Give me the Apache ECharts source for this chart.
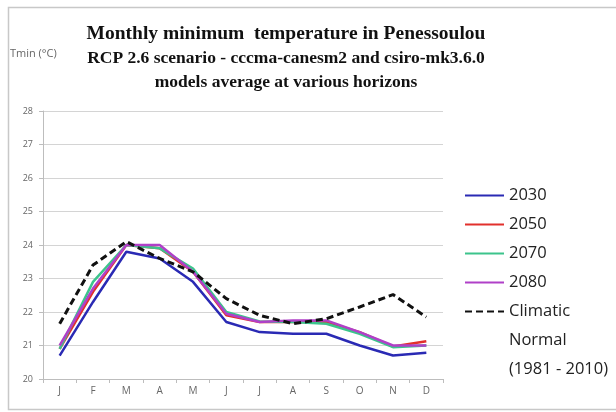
<!DOCTYPE html>
<html>
<head>
<meta charset="utf-8">
<script src="https://cdn.jsdelivr.net/npm/echarts@6/dist/echarts.min.js"></script>
<style>
  html, body { margin: 0; padding: 0; background: #fff; }
  #chart { width: 616px; height: 412px; }
</style>
</head>
<body>
<div id="chart"></div>
<script>
// months on the x axis
var months = ['J', 'F', 'M', 'A', 'M', 'J', 'J', 'A', 'S', 'O', 'N', 'D'];

// Tmin values (°C)
var h2030 = [20.7, 22.3, 23.8, 23.6, 22.9, 21.7, 21.4, 21.35, 21.35, 21.0, 20.7, 20.78];
var h2050 = [20.9, 22.6, 24.0, 23.9, 23.2, 21.9, 21.7, 21.7, 21.7, 21.4, 20.97, 21.13];
var h2070 = [20.9, 22.9, 24.0, 23.9, 23.3, 22.0, 21.72, 21.7, 21.65, 21.35, 20.95, 21.0];
var h2080 = [21.0, 22.7, 24.0, 24.0, 23.2, 21.95, 21.7, 21.75, 21.75, 21.4, 21.0, 21.0];
var climatic = [21.65, 23.4, 24.1, 23.6, 23.2, 22.4, 21.9, 21.65, 21.8, 22.15, 22.52, 21.85];

var climName = 'Climatic Normal (1981 - 2010)';

var chart = echarts.init(document.getElementById('chart'));

function line(name, color, data, dashed) {
  return {
    name: name,
    type: 'line',
    data: data,
    symbol: 'none',
    showSymbol: false,
    itemStyle: { color: color },
    lineStyle: { color: color, width: dashed ? 3 : 2.5, type: dashed ? [7, 4] : 'solid' }
  };
}

var legendText = { fontFamily: 'Open Sans', fontSize: 16.5, color: '#222', lineHeight: 29 };

chart.setOption({
  animation: false,
  backgroundColor: '#fff',
  title: {
    text: 'Monthly minimum  temperature in Penessoulou',
    subtext: 'RCP 2.6 scenario - cccma-canesm2 and csiro-mk3.6.0\nmodels average at various horizons',
    left: 281,
    top: 18,
    textAlign: 'center',
    itemGap: 1,
    textStyle: {
      fontFamily: 'Liberation Serif', fontWeight: 'bold', fontSize: 19.5,
      color: '#111', lineHeight: 22
    },
    subtextStyle: {
      fontFamily: 'Liberation Serif', fontWeight: 'bold', fontSize: 17.5,
      color: '#111', lineHeight: 24, align: 'center'
    }
  },
  legend: [{
    orient: 'vertical',
    left: 459,
    top: 176,
    height: 130,
    itemWidth: 39,
    itemHeight: 10,
    itemGap: 0,
    itemStyle: { opacity: 0 },
    data: ['2030', '2050', '2070', '2080'],
    textStyle: legendText
  }, {
    orient: 'vertical',
    left: 459,
    top: 234,
    height: 170,
    itemWidth: 39,
    itemHeight: 10,
    itemStyle: { opacity: 0 },
    data: [climName],
    // two empty lines first so the icon sits level with "Climatic"
    formatter: function () {
      return ' \n \nClimatic\nNormal\n(1981 - 2010)';
    },
    textStyle: legendText
  }],
  grid: { left: 43, right: 173, top: 111, bottom: 33 },
  xAxis: {
    type: 'category',
    data: months,
    boundaryGap: true,
    axisLine: { lineStyle: { color: '#bdbdbd' } },
    axisTick: { show: true, length: 4, lineStyle: { color: '#bdbdbd' } },
    axisLabel: { color: '#666', fontSize: 10, fontFamily: 'Open Sans', margin: 7 }
  },
  yAxis: {
    type: 'value',
    min: 20,
    max: 28,
    interval: 1,
    name: 'Tmin (°C)',
    nameLocation: 'end',
    nameGap: 52,
    nameTextStyle: { color: '#666', fontSize: 11, fontFamily: 'Open Sans', align: 'left', padding: [0, 0, 0, -33] },
    axisLine: { show: true, lineStyle: { color: '#bdbdbd' } },
    axisTick: { show: true, length: 4, lineStyle: { color: '#bdbdbd' } },
    axisLabel: { color: '#666', fontSize: 9, fontFamily: 'Open Sans', margin: 10 },
    splitLine: { lineStyle: { color: '#d4d4d4', width: 1 } }
  },
  graphic: [{
    type: 'rect',
    shape: { x: 8.5, y: 7.5, width: 620, height: 402 },
    style: { fill: 'none', stroke: '#c8c8c8', lineWidth: 1.5 },
    silent: true
  }],
  series: [
    line('2030', '#2a2ab4', h2030),
    line('2050', '#e2302c', h2050),
    line('2070', '#3cc48c', h2070),
    line('2080', '#b040c8', h2080),
    line(climName, '#111', climatic, true)
  ]
});
</script>
</body>
</html>
